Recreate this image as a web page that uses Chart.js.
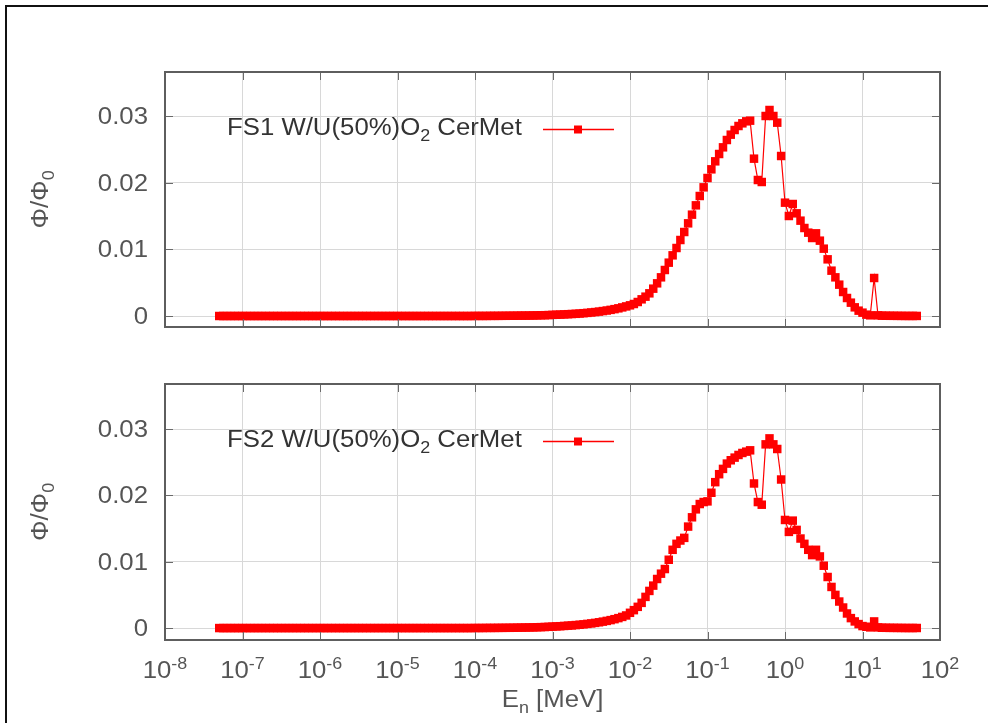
<!DOCTYPE html>
<html>
<head>
<meta charset="utf-8">
<title>Neutron flux spectra</title>
<script src="https://cdn.jsdelivr.net/npm/chart.js@4.4.0/dist/chart.umd.min.js"></script>
<style>
  html, body { margin: 0; padding: 0; background: #fff; }
  #page { position: relative; width: 988px; height: 723px; overflow: hidden; background: #fff; }
  #frame { position: absolute; left: 5px; top: 5px; width: 1000px; height: 740px;
           border-top: 2px solid #111; border-left: 2px solid #111; }
  canvas { position: absolute; left: 0; }
  #fs1 { top: 0; }
  #fs2 { top: 345px; }
</style>
</head>
<body>
<div id="page">
  <div id="frame"></div>
  <canvas id="fs1" width="988" height="345"></canvas>
  <canvas id="fs2" width="988" height="378"></canvas>
</div>
<script>
// energy points [MeV], 20 per decade from 5e-8 to 50 MeV
const energy = [
  5.012e-8, 5.623e-8, 6.310e-8, 7.079e-8, 7.943e-8, 8.913e-8,
  1.000e-7, 1.122e-7, 1.259e-7, 1.413e-7, 1.585e-7, 1.778e-7, 1.995e-7, 2.239e-7, 2.512e-7, 2.818e-7, 3.162e-7, 3.548e-7, 3.981e-7, 4.467e-7, 5.012e-7, 5.623e-7, 6.310e-7, 7.079e-7, 7.943e-7, 8.913e-7,
  1.000e-6, 1.122e-6, 1.259e-6, 1.413e-6, 1.585e-6, 1.778e-6, 1.995e-6, 2.239e-6, 2.512e-6, 2.818e-6, 3.162e-6, 3.548e-6, 3.981e-6, 4.467e-6, 5.012e-6, 5.623e-6, 6.310e-6, 7.079e-6, 7.943e-6, 8.913e-6,
  1.000e-5, 1.122e-5, 1.259e-5, 1.413e-5, 1.585e-5, 1.778e-5, 1.995e-5, 2.239e-5, 2.512e-5, 2.818e-5, 3.162e-5, 3.548e-5, 3.981e-5, 4.467e-5, 5.012e-5, 5.623e-5, 6.310e-5, 7.079e-5, 7.943e-5, 8.913e-5,
  1.000e-4, 1.122e-4, 1.259e-4, 1.413e-4, 1.585e-4, 1.778e-4, 1.995e-4, 2.239e-4, 2.512e-4, 2.818e-4, 3.162e-4, 3.548e-4, 3.981e-4, 4.467e-4, 5.012e-4, 5.623e-4, 6.310e-4, 7.079e-4, 7.943e-4, 8.913e-4,
  1.000e-3, 1.122e-3, 1.259e-3, 1.413e-3, 1.585e-3, 1.778e-3, 1.995e-3, 2.239e-3, 2.512e-3, 2.818e-3, 3.162e-3, 3.548e-3, 3.981e-3, 4.467e-3, 5.012e-3, 5.623e-3, 6.310e-3, 7.079e-3, 7.943e-3, 8.913e-3,
  1.000e-2, 1.122e-2, 1.259e-2, 1.413e-2, 1.585e-2, 1.778e-2, 1.995e-2, 2.239e-2, 2.512e-2, 2.818e-2, 3.162e-2, 3.548e-2, 3.981e-2, 4.467e-2, 5.012e-2, 5.623e-2, 6.310e-2, 7.079e-2, 7.943e-2, 8.913e-2,
  1.000e-1, 1.122e-1, 1.259e-1, 1.413e-1, 1.585e-1, 1.778e-1, 1.995e-1, 2.239e-1, 2.512e-1, 2.818e-1, 3.162e-1, 3.548e-1, 3.981e-1, 4.467e-1, 5.012e-1, 5.623e-1, 6.310e-1, 7.079e-1, 7.943e-1, 8.913e-1,
  1.000e0, 1.122e0, 1.259e0, 1.413e0, 1.585e0, 1.778e0, 1.995e0, 2.239e0, 2.512e0, 2.818e0, 3.162e0, 3.548e0, 3.981e0, 4.467e0, 5.012e0, 5.623e0, 6.310e0, 7.079e0, 7.943e0, 8.913e0,
  1.000e1, 1.122e1, 1.259e1, 1.413e1, 1.585e1, 1.778e1, 1.995e1, 2.239e1, 2.512e1, 2.818e1, 3.162e1, 3.548e1, 3.981e1, 4.467e1, 5.012e1
];

// normalised flux, FS1 fuel (one row per decade of energy)
const fs1Flux = [
  0, 0, 0, 0, 0, 0,
  0, 0, 0, 0, 0, 0, 0, 0, 0, 0, 0, 0, 0, 0, 0, 0, 0, 0, 0, 0,
  0, 0, 0, 0, 0, 0, 0, 0, 0, 0, 0, 0, 0, 0, 0, 0, 0, 0, 0, 0,
  0, 0, 0, 0, 0, 0, 0, 0, 0, 0, 0, 0, 0, 0, 0, 0, 0, 0, 0, 0,
  0.00001, 0.00001, 0.00001, 0.00001, 0.00002, 0.00002, 0.00002, 0.00003, 0.00003, 0.00004, 0.00004, 0.00005, 0.00006, 0.00006, 0.00007, 0.00008, 0.00009, 0.00011, 0.00012, 0.00014,
  0.00017, 0.00019, 0.00021, 0.00024, 0.00027, 0.0003, 0.00033, 0.00037, 0.00042, 0.00047, 0.00053, 0.00059, 0.00066, 0.00074, 0.00082, 0.00092, 0.00103, 0.00115, 0.00129, 0.00144,
  0.0016, 0.0018, 0.0021, 0.0025, 0.0029, 0.0034, 0.0041, 0.0049, 0.0058, 0.0069, 0.0080, 0.0091, 0.0102, 0.0114, 0.0126, 0.0139, 0.0152, 0.0166, 0.0180, 0.0193,
  0.0207, 0.0220, 0.0232, 0.0243, 0.0253, 0.0264, 0.0272, 0.0279, 0.0285, 0.0289, 0.0292, 0.0293, 0.0236, 0.0204, 0.0201, 0.0300, 0.0309, 0.0300, 0.0290, 0.0240,
  0.0170, 0.0150, 0.0168, 0.0154, 0.0143, 0.0132, 0.0125, 0.0117, 0.0124, 0.0113, 0.0101, 0.0085, 0.0068, 0.0058, 0.0047, 0.0036, 0.0027, 0.0020, 0.0013, 0.0008,
  0.0005, 0.0002, 0.0001, 0.0057, 0.0001, 0.00005, 0.00004, 0.00003, 0.00003, 0.00002, 0.00002, 0.00001, 0.00001, 0.00001, 0.00001
];

// normalised flux, FS2 fuel
const fs2Flux = [
  0, 0, 0, 0, 0, 0,
  0, 0, 0, 0, 0, 0, 0, 0, 0, 0, 0, 0, 0, 0, 0, 0, 0, 0, 0, 0,
  0, 0, 0, 0, 0, 0, 0, 0, 0, 0, 0, 0, 0, 0, 0, 0, 0, 0, 0, 0,
  0, 0, 0, 0, 0, 0, 0, 0, 0, 0, 0, 0, 0, 0, 0, 0, 0, 0, 0, 0,
  0.00001, 0.00001, 0.00001, 0.00002, 0.00002, 0.00002, 0.00003, 0.00003, 0.00004, 0.00004, 0.00005, 0.00006, 0.00007, 0.00008, 0.00009, 0.0001, 0.00012, 0.00014, 0.00016, 0.00019,
  0.00022, 0.00025, 0.00028, 0.00032, 0.00036, 0.0004, 0.00045, 0.0005, 0.00056, 0.00063, 0.0007, 0.00078, 0.00087, 0.00097, 0.00108, 0.0012, 0.00134, 0.0015, 0.00168, 0.0019,
  0.0023, 0.0027, 0.0032, 0.0038, 0.0047, 0.0056, 0.0064, 0.0074, 0.0082, 0.0089, 0.0103, 0.0118, 0.0127, 0.0132, 0.0136, 0.0153, 0.0167, 0.0179, 0.0187, 0.0190,
  0.0191, 0.0204, 0.0220, 0.0232, 0.0240, 0.0248, 0.0253, 0.0257, 0.0261, 0.0264, 0.0266, 0.0268, 0.0218, 0.0190, 0.0186, 0.0277, 0.0286, 0.0277, 0.0270, 0.0224,
  0.0163, 0.0145, 0.0162, 0.0148, 0.0135, 0.0127, 0.0118, 0.0110, 0.0118, 0.0108, 0.0094, 0.0077, 0.0062, 0.0050, 0.0040, 0.0031, 0.0022, 0.0015, 0.0010, 0.0006,
  0.0003, 0.0002, 0.0001, 0.0010, 0.0001, 0.00005, 0.00004, 0.00003, 0.00003, 0.00002, 0.00002, 0.00001, 0.00001, 0.00001, 0.00001
];

const seriesNames = ['FS1 W/U(50%)O_2 CerMet', 'FS2 W/U(50%)O_2 CerMet'];
const energyTicks = [1e-8, 1e-7, 1e-6, 1e-5, 1e-4, 1e-3, 1e-2, 1e-1, 1e0, 1e1, 1e2];
const energyTickLabels = ['10^{-8}', '10^{-7}', '10^{-6}', '10^{-5}', '10^{-4}', '10^{-3}',
                          '10^{-2}', '10^{-1}', '10^{0}', '10^{1}', '10^{2}'];
const fluxTicks = [0, 0.01, 0.02, 0.03];
const fluxTickLabels = ['0', '0.01', '0.02', '0.03'];
const yTitle = 'Φ/Φ_0';
const xTitle = 'E_n [MeV]';

const FONT = '"Liberation Sans", Arial, Helvetica, sans-serif';
const STRETCH = 1.12;   // text is a little wider than the plain font
const RED = '#ff0000';
const AXIS_TEXT = '#555';

// split "O_2" / "10^{-8}" style strings into normal, sub and sup runs
function parseRich(str) {
  const runs = [];
  let buf = '';
  let i = 0;
  while (i < str.length) {
    const c = str[i];
    if (c === '_' || c === '^') {
      if (buf) { runs.push({ text: buf, shift: 0 }); buf = ''; }
      let t;
      if (str[i + 1] === '{') {
        const end = str.indexOf('}', i);
        t = str.slice(i + 2, end);
        i = end + 1;
      } else {
        t = str[i + 1];
        i += 2;
      }
      runs.push({ text: t, shift: c === '_' ? 1 : -1 });
    } else {
      buf += c;
      i++;
    }
  }
  if (buf) runs.push({ text: buf, shift: 0 });
  return runs;
}

// y is the baseline of the normal-size text
function drawRich(ctx, str, x, y, size, align, color) {
  const runs = parseRich(str);
  const small = Math.round(size * 0.7);
  const fontOf = r => (r.shift ? small : size) + 'px ' + FONT;
  let total = 0;
  runs.forEach(r => { ctx.font = fontOf(r); r.w = ctx.measureText(r.text).width; total += r.w; });
  const w = total * STRETCH;
  const x0 = align === 'center' ? x - w / 2 : (align === 'right' ? x - w : x);
  ctx.save();
  ctx.translate(x0, y);
  ctx.scale(STRETCH, 1);
  ctx.fillStyle = color;
  ctx.textAlign = 'left';
  ctx.textBaseline = 'alphabetic';
  let cx = 0;
  runs.forEach(r => {
    ctx.font = fontOf(r);
    const dy = r.shift === 1 ? size * 0.25 : (r.shift === -1 ? -size * 0.38 : 0);
    ctx.fillText(r.text, cx, dy);
    cx += r.w;
  });
  ctx.restore();
}

// frame, inward tics, tic labels, key and axis titles in gnuplot style
const decorations = {
  id: 'decorations',
  afterDraw(chart, args, opts) {
    const { ctx, chartArea: a } = chart;
    const xs = chart.scales.x, ys = chart.scales.y;
    ctx.save();

    ctx.strokeStyle = '#6a6a6a';
    ctx.lineWidth = 1;
    ctx.beginPath();
    energyTicks.forEach(v => {
      const px = Math.round(xs.getPixelForValue(v)) + 0.5;
      ctx.moveTo(px, a.bottom); ctx.lineTo(px, a.bottom - 8);
      ctx.moveTo(px, a.top); ctx.lineTo(px, a.top + 8);
    });
    fluxTicks.forEach(v => {
      const py = Math.round(ys.getPixelForValue(v)) + 0.5;
      ctx.moveTo(a.left, py); ctx.lineTo(a.left + 8, py);
      ctx.moveTo(a.right, py); ctx.lineTo(a.right - 8, py);
    });
    ctx.stroke();

    ctx.strokeStyle = '#5e5e5e';
    ctx.lineWidth = 2;
    ctx.strokeRect(a.left, a.top, a.right - a.left, a.bottom - a.top);

    fluxTicks.forEach((v, i) => {
      drawRich(ctx, fluxTickLabels[i], a.left - 17, ys.getPixelForValue(v) + 8, 23, 'right', AXIS_TEXT);
    });

    // key: label text, then line sample with a point
    const ky = a.top + 57;
    drawRich(ctx, opts.label, 227, ky + 6, 23, 'left', '#333');
    ctx.strokeStyle = RED;
    ctx.lineWidth = 1.5;
    ctx.beginPath();
    ctx.moveTo(543, ky + 0.5); ctx.lineTo(614, ky + 0.5);
    ctx.stroke();
    ctx.fillStyle = RED;
    ctx.fillRect(574, ky - 3.5, 8, 8);

    // rotated y title
    ctx.save();
    ctx.translate(48, (a.top + a.bottom) / 2);
    ctx.rotate(-Math.PI / 2);
    drawRich(ctx, yTitle, 0, 0, 23, 'center', AXIS_TEXT);
    ctx.restore();

    if (opts.showX) {
      energyTicks.forEach((v, i) => {
        drawRich(ctx, energyTickLabels[i], xs.getPixelForValue(v), a.bottom + 38, 23, 'center', AXIS_TEXT);
      });
      drawRich(ctx, xTitle, (a.left + a.right) / 2, a.bottom + 67, 23, 'center', AXIS_TEXT);
    }
    ctx.restore();
  }
};

function makePanel(id, name, flux, cfg) {
  const points = energy.map((e, i) => ({ x: e, y: flux[i] }));
  return new Chart(document.getElementById(id), {
    type: 'line',
    data: {
      datasets: [{
        label: name,
        data: points,
        borderColor: RED,
        borderWidth: 1.2,
        backgroundColor: RED,
        pointStyle: 'rect',
        pointRadius: 6,
        pointBorderWidth: 0,
        pointBackgroundColor: RED,
        tension: 0,
        fill: false
      }]
    },
    options: {
      responsive: false,
      animation: false,
      devicePixelRatio: 1,
      layout: { padding: { top: cfg.padTop, right: 48, bottom: 0, left: 0 } },
      plugins: {
        legend: { display: false },
        tooltip: { enabled: false },
        decorations: { label: name, showX: cfg.showX }
      },
      scales: {
        x: {
          type: 'logarithmic',
          min: 1e-8,
          max: 1e2,
          afterBuildTicks: s => { s.ticks = energyTicks.map(v => ({ value: v })); },
          afterFit: s => { s.height = cfg.xHeight; },
          ticks: { display: false },
          grid: { color: '#d8d8d8', lineWidth: 1, drawTicks: false },
          border: { display: false }
        },
        y: {
          min: cfg.yMin,
          max: cfg.yMax,
          afterBuildTicks: s => { s.ticks = fluxTicks.map(v => ({ value: v })); },
          afterFit: s => { s.width = 165; },
          ticks: { display: false },
          grid: { color: '#d8d8d8', lineWidth: 1, drawTicks: false },
          border: { display: false }
        }
      }
    },
    plugins: [decorations]
  });
}

makePanel('fs1', seriesNames[0], fs1Flux, { padTop: 72, xHeight: 18, yMin: -0.00165, yMax: 0.0366, showX: false });
makePanel('fs2', seriesNames[1], fs2Flux, { padTop: 39, xHeight: 83, yMin: -0.0018, yMax: 0.0368, showX: true });
</script>
</body>
</html>
